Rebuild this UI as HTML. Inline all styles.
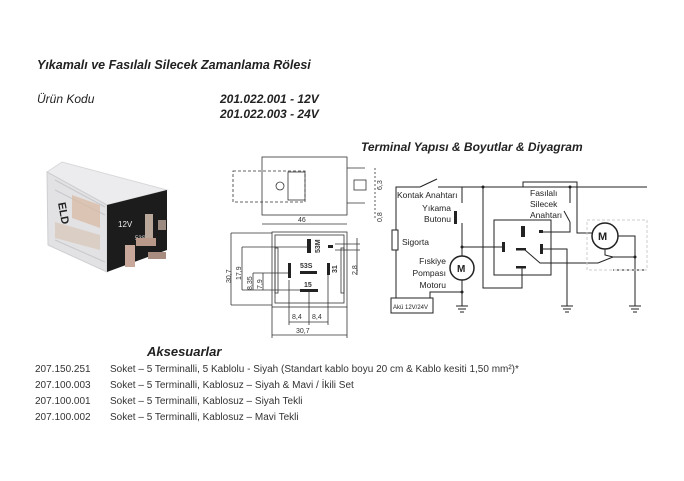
<!DOCTYPE html>
<html><head><meta charset="utf-8"><style>
html,body{margin:0;padding:0;background:#fff;}
svg{display:block;font-family:"Liberation Sans",sans-serif;}
</style></head><body>
<svg width="684" height="481" viewBox="0 0 684 481" xmlns="http://www.w3.org/2000/svg">
<rect width="684" height="481" fill="#fff"/>
<g font-style="italic" fill="#222">
<text x="37" y="69" font-size="12.5" font-weight="bold">Yıkamalı ve Fasılalı Silecek Zamanlama Rölesi</text>
<text x="37" y="103" font-size="12">Ürün Kodu</text>
<text x="220" y="103" font-size="12" font-weight="bold">201.022.001   - 12V</text>
<text x="220" y="118" font-size="12" font-weight="bold">201.022.003   - 24V</text>
<text x="361" y="151" font-size="12" font-weight="bold">Terminal Yapısı &amp; Boyutlar &amp; Diyagram</text>
<text x="147" y="356" font-size="13" font-weight="bold">Aksesuarlar</text>
</g>
<g font-size="10" fill="#333">
<text x="35" y="372">207.150.251</text><text x="110" y="372">Soket – 5 Terminalli, 5 Kablolu - Siyah (Standart kablo boyu 20 cm &amp; Kablo kesiti 1,50 mm²)*</text>
<text x="35" y="388">207.100.003</text><text x="110" y="388">Soket – 5 Terminalli, Kablosuz – Siyah &amp; Mavi / İkili Set</text>
<text x="35" y="404">207.100.001</text><text x="110" y="404">Soket – 5 Terminalli, Kablosuz – Siyah Tekli</text>
<text x="35" y="420">207.100.002</text><text x="110" y="420">Soket – 5 Terminalli, Kablosuz – Mavi Tekli</text>
</g>
<!-- relay photo -->
<g>
<polygon points="47,172 62,162 167,190 107,205" fill="#ececee" stroke="#d8d8da"/>
<polygon points="47,172 107,205 107,272 48,245" fill="#e2e2e4" stroke="#cfcfd2"/>
<g stroke="#c8c8cc" stroke-width="1"><line x1="55" y1="180" x2="105" y2="207"/><line x1="55" y1="190" x2="105" y2="215"/><line x1="55" y1="240" x2="105" y2="262"/></g>
<polygon points="72,195 100,205 100,228 72,218" fill="#d9b8a0" opacity="0.7"/>
<polygon points="55,222 100,235 100,250 55,238" fill="#d6c2b0" opacity="0.6"/>
<polygon points="107,205 167,190 167,250 107,272" fill="#1c1c1c"/>
<text x="118" y="227" font-size="8" fill="#eee">12V</text>
<text x="135" y="240" font-size="6" fill="#ddd">53S</text>
<rect x="145" y="214" width="8" height="24" fill="#b9a79a"/>
<rect x="125" y="245" width="10" height="22" fill="#c8a89a"/>
<rect x="136" y="238" width="20" height="8" fill="#b89888"/>
<rect x="148" y="252" width="18" height="7" fill="#a88c80"/>
<rect x="158" y="220" width="8" height="10" fill="#9a8a80"/>
<text x="58" y="203" font-size="11" font-weight="bold" fill="#222" transform="rotate(80 58 203)">ELD</text>
</g>
<!-- dimension drawings -->
<g stroke="#333" fill="none" stroke-width="0.8">
<rect x="262" y="157" width="85" height="58"/>
<rect x="233" y="171" width="72" height="31" stroke-dasharray="3,2"/>
<rect x="288" y="172" width="17" height="28"/>
<circle cx="280" cy="186" r="4"/>
<line x1="347" y1="168" x2="365" y2="168"/><line x1="347" y1="203" x2="365" y2="203"/>
<rect x="354" y="180" width="12" height="10"/>
<line x1="262" y1="224" x2="347" y2="224"/>
<rect x="272" y="232" width="75" height="75"/>
<rect x="275" y="235" width="69" height="68"/>
<rect x="275" y="248" width="3" height="45"/><rect x="341" y="248" width="3" height="45"/>
<line x1="231" y1="233" x2="231" y2="305"/><line x1="231" y1="233" x2="272" y2="233"/><line x1="231" y1="305" x2="272" y2="305"/>
<line x1="242" y1="247" x2="242" y2="290"/><line x1="242" y1="247" x2="309" y2="247"/><line x1="242" y1="290" x2="310" y2="290"/>
<line x1="253" y1="273" x2="253" y2="290"/><line x1="253" y1="273" x2="289" y2="273"/>
<line x1="263" y1="273" x2="263" y2="290"/>
<line x1="289" y1="280" x2="289" y2="325"/><line x1="309" y1="290" x2="309" y2="325"/><line x1="328" y1="275" x2="328" y2="325"/>
<line x1="289" y1="322" x2="328" y2="322"/>
<line x1="272" y1="307" x2="272" y2="338"/><line x1="347" y1="307" x2="347" y2="338"/>
<line x1="272" y1="335" x2="347" y2="335"/>
<line x1="335" y1="244" x2="360" y2="244"/><line x1="335" y1="250" x2="360" y2="250"/><line x1="357" y1="238" x2="357" y2="275"/>
<line x1="375" y1="168" x2="375" y2="220" stroke-dasharray="2,2"/>
</g>
<g fill="#222">
<rect x="307" y="239" width="4" height="14"/><rect x="328" y="245" width="5" height="3"/>
<rect x="300" y="271" width="17" height="3"/><rect x="327" y="263" width="3" height="12"/>
<rect x="288" y="263" width="3" height="15"/><rect x="300" y="289" width="18" height="3"/>
</g>
<g font-size="7" fill="#333">
<text x="298" y="222">46</text>
<text x="300" y="268" font-weight="bold">53S</text>
<text x="304" y="287" font-weight="bold">15</text>
<text x="296" y="333">30,7</text>
<text x="292" y="319">8,4</text><text x="312" y="319">8,4</text>
<text transform="translate(320 253) rotate(-90)" font-weight="bold">53M</text>
<text transform="translate(337 273) rotate(-90)" font-weight="bold">31</text>
<text transform="translate(231 283) rotate(-90)">30,7</text>
<text transform="translate(241 280) rotate(-90)">17,9</text>
<text transform="translate(252 290) rotate(-90)">8,35</text>
<text transform="translate(262 289) rotate(-90)">7,9</text>
<text transform="translate(357 275) rotate(-90)">2,8</text>
<text transform="translate(382 222) rotate(-90)">0,8</text>
<text transform="translate(382 190) rotate(-90)">6,3</text>
</g>
<!-- circuit -->
<g stroke="#222" fill="none" stroke-width="1">
<polyline points="396,298 396,187 420,187"/><line x1="420" y1="187" x2="437" y2="179"/>
<line x1="438" y1="187" x2="647" y2="187"/>
<rect x="392" y="230" width="6" height="20" fill="#fff"/>
<polyline points="462,187 462,203"/><polyline points="462,223 462,256"/>
<line x1="456" y1="212" x2="456" y2="223"/>
<line x1="462" y1="280" x2="462" y2="306"/>
<polyline points="430,298 430,292 462,292"/>
<rect x="391" y="298" width="42" height="15"/>
<line x1="462" y1="247" x2="503" y2="247"/>
<rect x="494" y="220" width="57" height="55"/>
<polyline points="483,187 483,288 522,288 522,268"/>
<polyline points="523,187 523,182 577,182 577,233 592,233"/>
<polyline points="570,187 570,203"/><polyline points="570,222 570,232 542,232"/><line x1="570" y1="222" x2="564" y2="211"/>
<circle cx="605" cy="236" r="13" stroke-width="1.5"/>
<polyline points="618,236 635,236 635,306"/>
<polyline points="605,249 605,255 613,257"/>
<polyline points="525,250 540,263 598,263 613,257"/><line x1="613" y1="257" x2="635" y2="257"/>
<line x1="613" y1="270" x2="647" y2="270"/>
<polyline points="542,249 567,249 567,306"/>
<circle cx="462" cy="268" r="12" stroke-width="1.5"/>
<rect x="587" y="220" width="60" height="50" stroke="#ccc" stroke-dasharray="3,2"/>
</g>
<g fill="#222">
<rect x="454" y="211" width="3" height="13"/>
<rect x="502" y="242" width="3" height="10"/><rect x="540" y="244" width="3" height="10"/>
<rect x="521" y="226" width="4" height="11"/><rect x="539" y="230" width="4" height="3"/>
<rect x="516" y="248" width="10" height="2.5"/><rect x="516" y="266" width="10" height="2.5"/>
<circle cx="462" cy="247" r="1.5"/><circle cx="462" cy="292" r="1.5"/><circle cx="483" cy="187" r="1.5"/><circle cx="570" cy="187" r="1.5"/><circle cx="635" cy="257" r="1.5"/>
</g>
<g stroke="#222" fill="none">
<path d="M456,306h12M458,309h8M460,312h4"/><path d="M561,306h12M563,309h8M565,312h4"/><path d="M629,306h12M631,309h8M633,312h4"/>
</g>
<g font-size="8.5" fill="#222">
<text x="397" y="198">Kontak Anahtarı</text>
<text x="451" y="211" text-anchor="end">Yıkama</text><text x="451" y="222" text-anchor="end">Butonu</text>
<text x="402" y="245">Sigorta</text>
<text x="446" y="264" text-anchor="end">Fıskiye</text><text x="446" y="276" text-anchor="end">Pompası</text><text x="446" y="288" text-anchor="end">Motoru</text>
<text x="530" y="196">Fasılalı</text><text x="530" y="207">Silecek</text><text x="530" y="218">Anahtarı</text>
<text x="598" y="240" font-weight="bold" font-size="11">M</text>
<text x="457" y="272" font-weight="bold" font-size="10">M</text>
<text x="393" y="309" font-size="6">Akü 12V/24V</text>
</g>
</svg>
</body></html>
